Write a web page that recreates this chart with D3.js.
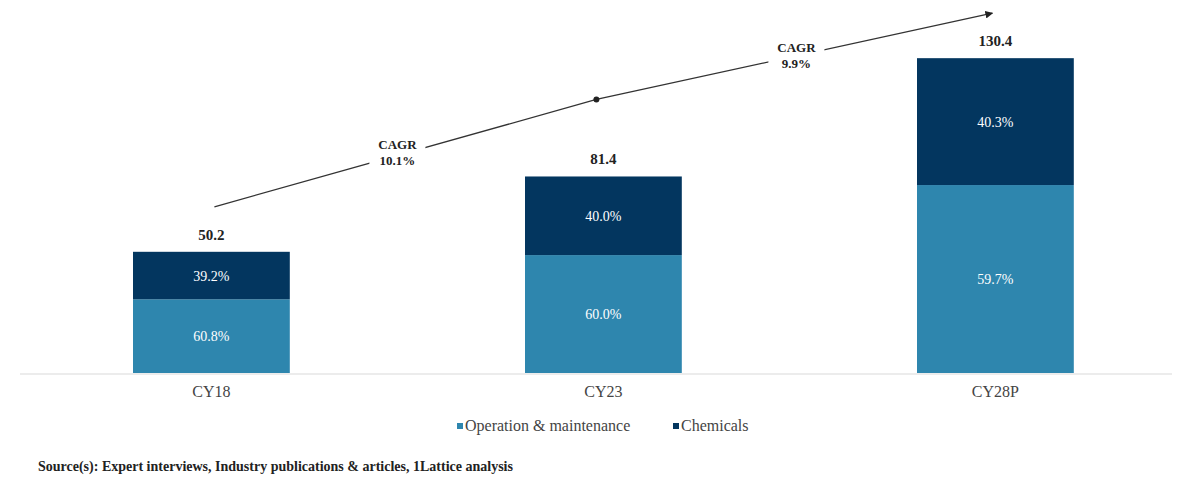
<!DOCTYPE html>
<html><head><meta charset="utf-8">
<script src="https://cdn.jsdelivr.net/npm/d3@7"></script>
<style>body{margin:0;background:#fff}svg{display:block}</style>
</head><body><svg id="c" width="1192" height="481"></svg>
<script>
const categories = ["CY18", "CY23", "CY28P"];
const totals = [50.2, 81.4, 130.4];
const omShare = [60.8, 60.0, 59.7];
const chemShare = [39.2, 40.0, 40.3];
const seriesNames = ["Operation & maintenance", "Chemicals"];
const cagrLabels = ["10.1%", "9.9%"];
const source = "Source(s): Expert interviews, Industry publications & articles, 1Lattice analysis";

const colors = {"Operation & maintenance": "#2e86ae", "Chemicals": "#03365f"};
const serif = "'Liberation Serif','Times New Roman',serif";
const svg = d3.select("#c");

const x = d3.scaleBand().domain(categories).range([54.6, 1152.2]).paddingInner(0.6).paddingOuter(0.2);
const y = d3.scaleLinear().domain([0, 140]).range([373, 35]);

const rows = categories.map((c, i) => ({
  cat: c, total: totals[i],
  "Operation & maintenance": totals[i] * omShare[i] / 100,
  "Chemicals": totals[i] * chemShare[i] / 100,
  pct: {"Operation & maintenance": omShare[i], "Chemicals": chemShare[i]}
}));
const stack = d3.stack().keys(seriesNames)(rows);

svg.append("line").attr("x1", 20).attr("x2", 1172).attr("y1", y(0) + 1).attr("y2", y(0) + 1)
  .attr("stroke", "#d9d9d9").attr("stroke-width", 1);

stack.forEach(s => {
  const g = svg.append("g");
  g.selectAll("rect").data(s).join("rect")
    .attr("x", d => x(d.data.cat)).attr("width", x.bandwidth())
    .attr("y", d => y(d[1])).attr("height", d => y(d[0]) - y(d[1]))
    .attr("fill", colors[s.key]);
  g.selectAll("text").data(s).join("text")
    .attr("x", d => x(d.data.cat) + x.bandwidth() / 2)
    .attr("y", d => (y(d[0]) + y(d[1])) / 2 + 5)
    .attr("text-anchor", "middle").attr("fill", "#fff")
    .style("font-family", serif).style("font-size", "14px")
    .text(d => d.data.pct[s.key].toFixed(1) + "%");
});

svg.selectAll(".tot").data(rows).join("text")
  .attr("x", d => x(d.cat) + x.bandwidth() / 2).attr("y", d => y(d.total) - 12)
  .attr("text-anchor", "middle").attr("fill", "#222")
  .style("font-family", serif).style("font-size", "15px").style("font-weight", "bold")
  .text(d => d.total.toFixed(1));

const xAxis = svg.append("g").attr("transform", `translate(0,${y(0)})`)
  .call(d3.axisBottom(x).tickSize(0).tickPadding(13));
xAxis.select(".domain").remove();
xAxis.selectAll("text").style("font-family", serif).style("font-size", "16px").attr("fill", "#444");

const pts = [
  [x("CY18") + x.bandwidth() / 2 + 3, y(totals[0]) - 45],
  [x("CY23") + x.bandwidth() / 2 - 7, y(totals[1]) - 77],
  [x("CY28P") + x.bandwidth() / 2 - 3, y(totals[2]) - 45]
];
const defs = svg.append("defs");
defs.append("marker").attr("id", "ah").attr("viewBox", "0 0 10 10").attr("refX", 9).attr("refY", 5)
  .attr("markerWidth", 6).attr("markerHeight", 6).attr("orient", "auto")
  .append("path").attr("d", "M0,0L10,5L0,10z").attr("fill", "#222");
svg.append("path").attr("d", d3.line()(pts)).attr("fill", "none")
  .attr("stroke", "#333").attr("stroke-width", 1.3).attr("marker-end", "url(#ah)");
svg.append("circle").attr("cx", pts[1][0]).attr("cy", pts[1][1]).attr("r", 3).attr("fill", "#222");

[[0, 1], [1, 2]].forEach(([a, b], i) => {
  const mx = (pts[a][0] + pts[b][0]) / 2 - (i === 0 ? 8 : -2);
  const my = (pts[a][1] + pts[b][1]) / 2;
  svg.append("rect").attr("x", mx - 28).attr("y", my - 22).attr("width", 56).attr("height", 40).attr("fill", "#fff");
  const t = svg.append("text").attr("text-anchor", "middle").attr("fill", "#222")
    .style("font-family", serif).style("font-size", "13px").style("font-weight", "bold");
  t.append("tspan").attr("x", mx).attr("y", my - 4).text("CAGR");
  t.append("tspan").attr("x", mx).attr("y", my + 12).text(cagrLabels[i]);
});

const legend = svg.append("g");
const legItems = [{name: seriesNames[0], x: 457}, {name: seriesNames[1], x: 673}];
legItems.forEach(it => {
  legend.append("rect").attr("x", it.x).attr("y", 423).attr("width", 6).attr("height", 6).attr("fill", colors[it.name]);
  legend.append("text").attr("x", it.x + 8).attr("y", 431).attr("fill", "#444")
    .style("font-family", serif).style("font-size", "16px").text(it.name);
});

svg.append("text").attr("x", 38).attr("y", 471).attr("fill", "#222")
  .style("font-family", serif).style("font-size", "14px").style("font-weight", "bold").text(source);
</script></body></html>
